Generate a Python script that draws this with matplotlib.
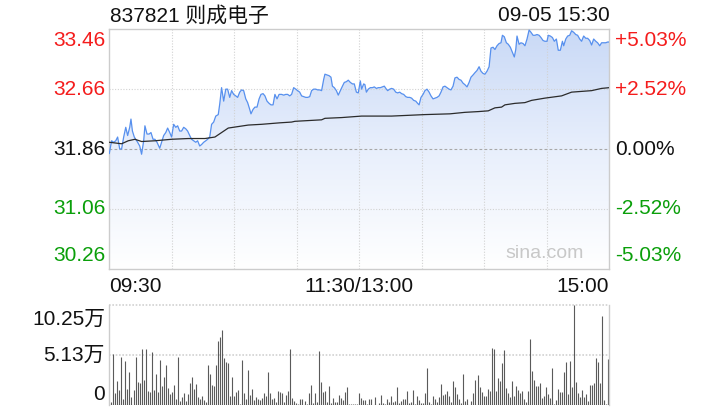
import numpy as np
import matplotlib
matplotlib.use('Agg')
import matplotlib.pyplot as plt
from matplotlib.patches import Polygon
from matplotlib.colors import LinearSegmentedColormap
from matplotlib.transforms import blended_transform_factory, offset_copy

plt.rcParams['font.family'] = ['Liberation Sans', 'Noto Sans CJK SC', 'DejaVu Sans']

# ---------------- data ----------------
title_text = '837821 则成电子'
date_text = '09-05 15:30'
prev_close = 31.86
price_ticks = [33.46, 32.66, 31.86, 31.06, 30.26]
pct_labels = ['+5.03%', '+2.52%', '0.00%', '-2.52%', '-5.03%']
time_ticks = [0, 120, 240]
time_labels = ['09:30', '11:30/13:00', '15:00']
vol_ticks = [10.25, 5.13, 0]
vol_labels = ['10.25万', '5.13万', '0']

price_min = [
    0, 1.1, 2.1, 3.1, 4.0, 5.0, 5.9, 6.9, 7.9, 8.8,
    9.8, 10.4, 11.1, 12.0, 12.7, 13.6, 14.6, 15.5, 16.5, 17.1,
    18.1, 19.1, 20.0, 21.0, 21.9, 22.9, 24.2, 25.1, 26.1, 27.1,
    28.0, 29.0, 29.9, 30.9, 31.9, 32.8, 33.8, 34.7, 35.7, 36.7,
    37.6, 38.6, 39.5, 40.5, 41.5, 42.4, 43.4, 44.3, 45.3, 46.3,
    47.2, 48.2, 49.1, 50.1, 51.1, 52.3, 53.0, 53.9, 54.9, 55.9,
    56.8, 57.8, 58.7, 59.7, 60.7, 61.6, 62.6, 63.5, 64.5, 65.5,
    66.4, 67.4, 68.0, 69.0, 69.9, 70.9, 71.9, 72.8, 73.8, 74.7,
    75.7, 76.7, 77.6, 78.6, 79.5, 80.5, 81.5,
    82.7, 83.7, 84.7, 85.6, 86.6, 87.5, 88.5, 89.5, 90.4, 91.4,
    92.3, 93.3, 94.3, 95.2, 96.2, 97.1, 98.1, 99.1, 100.0, 101.0,
    101.9, 102.9, 103.5, 104.5, 105.5, 106.4, 107.1, 108.0, 109.0, 109.9,
    110.9, 111.9, 112.8, 113.8, 114.7, 115.7, 116.7, 117.6, 118.6, 119.5,
    120.5, 121.1, 122.1, 122.7, 123.4, 124.3, 125.3, 126.3, 127.2, 128.2,
    129.1, 130.1, 131.1, 132.0, 133.0, 133.6, 134.6, 135.5, 136.5, 137.5,
    138.4, 139.4, 140.3, 141.3, 142.3, 143.2, 144.2, 145.1, 146.1, 147.1,
    148.0, 148.7, 149.6, 150.6, 151.5, 152.5, 153.5, 154.4, 155.4, 156.3,
    157.3, 158.3, 159.2, 160.2, 161.1, 162.1, 163.1,
    164.0, 165.0, 165.9, 166.9, 167.9, 168.8, 169.8, 170.7, 171.7, 172.7,
    173.6, 174.6, 175.5, 176.5, 177.5, 178.4, 179.4, 180.3, 181.3, 182.3,
    183.2, 184.2, 185.1, 186.1, 187.1, 188.0, 188.7, 189.6, 190.6, 191.5,
    192.5, 193.5, 194.4, 195.1, 195.7, 196.7, 197.6, 198.6, 199.5, 200.5,
    201.5, 202.4, 203.4, 204.3, 205.3, 206.3, 207.2, 208.2, 209.1, 210.1,
    210.7, 211.7, 212.7, 213.6, 214.6, 215.5, 216.5, 217.5, 218.1, 219.1,
    220.0, 221.0, 221.9, 222.9, 223.9, 224.8, 225.8, 226.7, 227.7, 228.7,
    229.6, 230.6, 231.5, 232.5, 233.5, 234.4, 235.4, 236.3, 237.3, 238.3,
    239.2, 240,
]
price = [
    31.80, 31.97, 31.95, 31.97, 32.02, 31.86, 31.86, 32.02, 32.15, 32.04,
    32.15, 32.26, 32.10, 32.02, 31.99, 31.95, 31.90, 31.79, 31.97, 32.17,
    32.06, 32.06, 32.08, 31.99, 31.99, 31.95, 31.87, 31.95, 32.04, 32.08,
    32.14, 32.08, 32.02, 32.19, 32.15, 32.17, 32.10, 32.10, 32.15, 32.13,
    32.10, 32.04, 31.99, 31.97, 31.95, 31.97, 31.90, 31.92, 31.95, 31.97,
    31.99, 32.02, 32.19, 32.22, 32.30, 32.32, 32.46, 32.68, 32.50, 32.66,
    32.66, 32.55, 32.64, 32.59, 32.57, 32.55, 32.62, 32.65, 32.64, 32.53,
    32.48, 32.39, 32.33, 32.39, 32.42, 32.42, 32.53, 32.59, 32.60, 32.57,
    32.50, 32.47, 32.45, 32.45, 32.59, 32.53, 32.59,
    32.59, 32.58, 32.59, 32.59, 32.57, 32.59, 32.68, 32.66, 32.64, 32.62,
    32.57, 32.56, 32.55, 32.55, 32.56, 32.64, 32.66, 32.66, 32.65, 32.65,
    32.64, 32.79, 32.86, 32.85, 32.84, 32.82, 32.70, 32.68, 32.64, 32.58,
    32.64, 32.70, 32.75, 32.76, 32.78, 32.75, 32.73, 32.73, 32.62, 32.61,
    32.77, 32.66, 32.73, 32.72, 32.62, 32.66, 32.68, 32.68, 32.69, 32.67,
    32.68, 32.68, 32.69, 32.70, 32.66, 32.64, 32.66, 32.67, 32.66, 32.62,
    32.61, 32.62, 32.60, 32.59, 32.56, 32.55, 32.55, 32.54, 32.51, 32.50,
    32.47, 32.45, 32.55, 32.59, 32.64, 32.66, 32.62, 32.57, 32.53, 32.54,
    32.55, 32.57, 32.62, 32.69, 32.70, 32.68, 32.66,
    32.65, 32.70, 32.81, 32.82, 32.79, 32.78, 32.74, 32.72, 32.69, 32.75,
    32.82, 32.85, 32.88, 32.91, 32.96, 32.90, 32.87, 32.86, 32.90, 32.96,
    33.21, 33.22, 33.19, 33.24, 33.27, 33.28, 33.38, 33.36, 33.28, 33.26,
    33.22, 33.15, 33.09, 33.19, 33.37, 33.26, 33.28, 33.27, 33.24, 33.33,
    33.45, 33.42, 33.38, 33.38, 33.39, 33.38, 33.35, 33.31, 33.30, 33.30,
    33.38, 33.37, 33.35, 33.30, 33.33, 33.18, 33.18, 33.30, 33.24, 33.33,
    33.37, 33.38, 33.44, 33.42, 33.39, 33.38, 33.33, 33.30, 33.37, 33.34,
    33.34, 33.31, 33.25, 33.33, 33.30, 33.28, 33.24, 33.28, 33.28, 33.28,
    33.29, 33.29,
]
avg_min = [0, 5.9, 9.1, 12.3, 15.5, 21.9, 29.9, 37.9, 45.9, 50.7,
           53.9, 57.1, 61.9, 66.7, 73.1, 81.9, 87.5, 89.1, 101.9, 103.5,
           111.5, 121.1, 135.5, 151.5, 163.5, 170.7, 177.1, 181.9, 185.1, 188.3,
           189.9, 194.7, 199.5, 202.7, 209.1, 217.1, 221.9, 231.5, 236.3, 240]
avg_price = [31.95, 31.93, 31.97, 31.99, 31.96, 31.97, 31.99, 32.00, 32.00, 32.02,
             32.08, 32.14, 32.16, 32.18, 32.19, 32.21, 32.22, 32.23, 32.25, 32.27,
             32.28, 32.30, 32.30, 32.32, 32.33, 32.35, 32.36, 32.37, 32.41, 32.42,
             32.45, 32.47, 32.48, 32.51, 32.54, 32.57, 32.62, 32.64, 32.67, 32.68]

# volume in 万 (10k shares)
volume = [
    0.27, 5.23, 1.20, 2.46, 1.54, 4.92, 0.62, 4.51, 1.64, 3.38,
    0.82, 1.54, 4.92, 2.36, 2.26, 5.71, 2.56, 5.71, 1.44, 1.33,
    5.43, 1.54, 3.18, 1.33, 4.61, 1.95, 2.87, 4.10, 1.74, 1.13,
    1.33, 2.05, 0.62, 4.92, 0.41, 0.82, 1.23, 0.41, 1.13, 2.26,
    2.87, 1.64, 2.15, 0.82, 0.62, 0.92, 0.51, 0.31, 4.10, 3.18,
    2.05, 1.95, 4.10, 6.56, 6.97, 7.69, 4.82, 4.41, 4.31, 0.92, 2.87,
    0.92, 1.33, 1.54, 0.10, 4.61, 1.23, 0.62, 3.59, 1.03, 1.64,
    0.51, 0.82, 0.62, 0.51, 0.72, 1.23, 0.92, 3.38, 1.23, 0.62,
    0.72, 0.31, 1.44, 1.33, 1.23, 0.31, 1.03, 1.44, 5.74, 0.72,
    0.41, 0.20, 0.10, 0.62, 0.62, 0.41, 0.10, 1.23, 2.05, 0.20,
    1.23, 0.31, 5.54, 2.36, 1.33, 1.44, 0.31, 1.95, 0.20, 0.72,
    0.31, 0.31, 1.03, 0.72, 0.51, 1.33, 1.85, 0.10, 0.10, 0.10, 0.10,
    0.10, 1.23, 0.72, 0.51, 0.51, 0.10, 0.62, 0.62, 0.05, 0.82,
    0.05, 0.20, 1.03, 0.20, 0.10, 0.62, 0.31, 0.92, 0.31, 0.41,
    1.85, 0.20, 0.41, 0.62, 0.62, 1.44, 0.20, 0.31, 1.54, 0.10,
    0.92, 0.51, 0.20, 0.20, 1.23, 3.79, 0.31, 0.10, 0.92, 0.62,
    0.31, 0.82, 2.15, 1.03, 1.13, 1.44, 0.92, 0.31, 2.46, 1.85,
    1.13, 0.62, 0.20, 3.18, 0.41, 0.62, 0.05, 0.41, 1.23, 2.56,
    3.08, 1.85, 1.33, 0.92, 0.92,
    1.64, 1.44, 5.84, 5.74, 1.44, 2.77, 2.46, 4.31, 5.64, 1.74,
    1.23, 0.82, 2.46, 0.92, 1.95, 1.54, 1.23, 1.44, 0.62, 0.30,
    1.44, 6.77, 3.49, 2.56, 1.95, 1.95, 2.26, 0.72, 0.92, 1.85,
    1.13, 0.72, 3.79, 0.10, 0.51, 1.64, 1.33, 1.33, 3.38, 4.41,
    1.13, 4.51, 1.85, 10.25, 2.36, 1.23, 0.82, 1.54, 0.82, 1.13,
    0.41, 2.05, 2.05, 2.26, 4.82, 4.41, 2.26, 9.12, 0.51, 0.10, 4.72,
]

# ---------------- styling ----------------
RED = '#f41c1c'
GREEN = '#0a9f0a'
BLACK = '#111111'
FS = 15
frame_c = '#cccccc'
grid_c = '#d2d2d2'

W, H = 720, 420
fig = plt.figure(figsize=(W / 100, H / 100), dpi=100)

def ax_rect(l, t, r, b):
    return [l / W, 1 - b / H, (r - l) / W, (b - t) / H]

ax = fig.add_axes(ax_rect(109.3, 29.3, 609.3, 268.7))
axv = fig.add_axes(ax_rect(109.3, 305, 609.3, 405))

ymin, ymax = price_ticks[-1], price_ticks[0]
ax.set_xlim(0, 240)
ax.set_ylim(ymin, ymax)

# gradient fill under price
pm = np.asarray(price_min)
pp = np.asarray(price)
verts = np.column_stack([np.r_[pm, pm[-1], pm[0]], np.r_[pp, ymin, ymin]])
poly = Polygon(verts, closed=True, facecolor='none', edgecolor='none')
ax.add_patch(poly)
cmap = LinearSegmentedColormap.from_list('g', ['#ffffff', '#e8effc', '#c9d9f6'])
grad = np.linspace(0, 1, 256).reshape(-1, 1)
im = ax.imshow(grad, extent=[0, 240, ymin, ymax], origin='lower', aspect='auto',
               cmap=cmap, zorder=1, interpolation='bilinear')
im.set_clip_path(poly)

# grid
for v in [30, 60, 90, 120, 150, 180, 210]:
    ax.axvline(v, color=grid_c, lw=0.8, ls=(0, (1, 1.5)), zorder=2)
for t in price_ticks[1:-1]:
    if t == prev_close:
        ax.axhline(t, color='#a8a8a8', lw=0.8, ls=(0, (2.5, 2)), zorder=2)
    else:
        ax.axhline(t, color=grid_c, lw=0.8, ls=(0, (1, 1.5)), zorder=2)

ax.plot(pm, pp, color='#5790ee', lw=0.9, zorder=4)
ax.plot(avg_min, avg_price, color='#2b2b2b', lw=0.9, zorder=5)

ax.set_xticks([])
ax.set_yticks([])
for s in ax.spines.values():
    s.set_color(frame_c)
    s.set_linewidth(1)

# price labels
tl = blended_transform_factory(ax.transAxes, ax.transData)
colors = [RED, RED, BLACK, GREEN, GREEN]
offsets = [-11, 0, 0, 0, 13]
for t, lab, c, off in zip(price_ticks, pct_labels, colors, offsets):
    ax.text(0, t, f'{t:.2f}', transform=offset_copy(tl, fig=fig, x=-3, y=off * 0.72, units='points'),
            ha='right', va='center', color=c, fontsize=FS)
    ax.text(1, t, lab, transform=offset_copy(tl, fig=fig, x=4, y=off * 0.72, units='points'),
            ha='left', va='center', color=c, fontsize=FS)

# time labels
tb = blended_transform_factory(ax.transData, ax.transAxes)
has = ['left', 'center', 'right']
for t, lab, ha in zip(time_ticks, time_labels, has):
    ax.text(t, 0, lab, transform=offset_copy(tb, fig=fig, x=0, y=-12.5, units='points'),
            ha=ha, va='center', color=BLACK, fontsize=FS)

# title
ax.text(0, 1, title_text, transform=offset_copy(ax.transAxes, fig=fig, x=0.5, y=10, units='points'),
        ha='left', va='center', color=BLACK, fontsize=FS)
ax.text(1, 1, date_text, transform=offset_copy(ax.transAxes, fig=fig, x=0, y=10, units='points'),
        ha='right', va='center', color=BLACK, fontsize=FS)

# watermark
ax.text(0.87, 0.065, 'sina.com', transform=ax.transAxes, ha='center', va='center',
        color='#c8c8c8', fontsize=14, zorder=3)

# ---------------- volume ----------------
axv.set_xlim(0, 240)
axv.set_ylim(0, vol_ticks[0])
vx = np.linspace(1, 239.5, len(volume))
axv.vlines(vx, 0, volume, color='#5a5a5a', lw=0.8)
axv.axhline(vol_ticks[1], color=grid_c, lw=1.2, ls=(0, (1, 1)), zorder=0)
axv.axhline(vol_ticks[0], color=grid_c, lw=1.2, ls=(0, (1, 1)), zorder=0, clip_on=False)
axv.set_xticks([])
axv.set_yticks([])
axv.spines['top'].set_visible(False)
axv.spines['bottom'].set_visible(False)
for k in ['left', 'right']:
    axv.spines[k].set_color(frame_c)
    axv.spines[k].set_linewidth(1)
axv.axhline(0, color=grid_c, lw=1.0, ls=(0, (1, 1)), zorder=0)

tv = blended_transform_factory(axv.transAxes, axv.transData)
voffs = [-14, 0, 11]
for t, lab, off in zip(vol_ticks, vol_labels, voffs):
    axv.text(0, t, lab, transform=offset_copy(tv, fig=fig, x=-3, y=off * 0.72, units='points'),
             ha='right', va='center', color=BLACK, fontsize=FS)

fig.savefig('out.png', dpi=100)
